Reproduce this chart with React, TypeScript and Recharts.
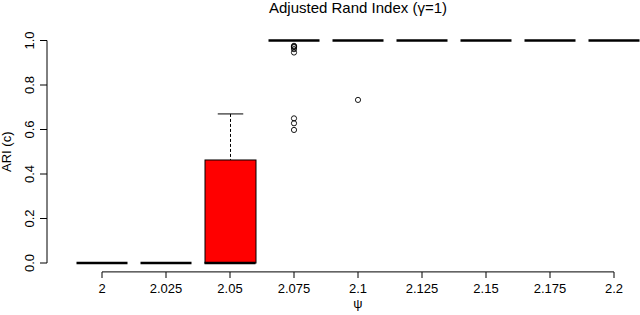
import React from 'react'
import { ComposedChart, Bar, Scatter, XAxis, YAxis, ReferenceLine } from 'recharts'

// box statistics per psi value (R boxplot style)
const psiLabels = ['2', '2.025', '2.05', '2.075', '2.1', '2.125', '2.15', '2.175', '2.2']
const whiskerLow = [0, 0, 0, 1, 1, 1, 1, 1, 1]
const lowerQuartile = [0, 0, 0, 1, 1, 1, 1, 1, 1]
const medians = [0, 0, 0, 1, 1, 1, 1, 1, 1]
const upperQuartile = [0, 0, 0.463, 1, 1, 1, 1, 1, 1]
const whiskerHigh = [0, 0, 0.67, 1, 1, 1, 1, 1, 1]
const boxFills = ['#ff0000', '#ff0000', '#ff0000', '#ff0000', '#ff0000', '#ff0000', '#ff0000', '#ff0000', '#ff0000']

const outlierPsi = ['2.075', '2.075', '2.075', '2.075', '2.075', '2.075', '2.075', '2.075', '2.1']
const outlierAri = [0.976, 0.973, 0.97, 0.961, 0.946, 0.65, 0.628, 0.598, 0.733]

const yTicks = [0, 0.2, 0.4, 0.6, 0.8, 1]

const FONT = '"Liberation Sans", Arial, Helvetica, sans-serif'
const BOX_W = 51

const data = psiLabels.map((psi, i) => ({
    psi,
    base: whiskerLow[i],
    lowWhisker: lowerQuartile[i] - whiskerLow[i],
    box: upperQuartile[i] - lowerQuartile[i],
    highWhisker: whiskerHigh[i] - upperQuartile[i],
    median: medians[i],
    boxColor: boxFills[i],
}))

const outliers = outlierPsi.map((psi, i) => ({ psi, ari: outlierAri[i] }))

const Empty = () => null

const BoxShape = (props: any) => {
    const { x, y, width, height, payload } = props
    if (!height || height < 0.5) return null
    return <rect x={x} y={y} width={width} height={height} fill={payload.boxColor} stroke="#000" strokeWidth={1} />
}

const HighWhisker = (props: any) => {
    const { x, y, width, height } = props
    if (!height || height < 0.5) return null
    const cx = x + width / 2
    return (
        <g>
            <line x1={cx} x2={cx} y1={y} y2={y + height} stroke="#000" strokeWidth={1} strokeDasharray="3 2" />
            <line x1={cx - width / 4} x2={cx + width / 4} y1={y} y2={y} stroke="#000" strokeWidth={1} />
        </g>
    )
}

const LowWhisker = (props: any) => {
    const { x, y, width, height } = props
    if (!height || height < 0.5) return null
    const cx = x + width / 2
    return (
        <g>
            <line x1={cx} x2={cx} y1={y} y2={y + height} stroke="#000" strokeWidth={1} strokeDasharray="3 2" />
            <line x1={cx - width / 4} x2={cx + width / 4} y1={y + height} y2={y + height} stroke="#000" strokeWidth={1} />
        </g>
    )
}

const MedianLine = (props: any) => {
    const { cx, cy } = props
    return <line x1={cx - BOX_W / 2} x2={cx + BOX_W / 2} y1={cy} y2={cy} stroke="#000" strokeWidth={2.4} />
}

const OutlierDot = (props: any) => {
    const { cx, cy } = props
    return <circle cx={cx} cy={cy} r={2.6} fill="none" stroke="#000" strokeWidth={0.9} />
}

const XTick = (props: any) => {
    const { x, y, payload } = props
    return (
        <g>
            <line x1={x} x2={x} y1={y + 9} y2={y + 15} stroke="#000" strokeWidth={1} />
            <text x={x} y={y + 29.5} textAnchor="middle" fontSize={13} fontFamily={FONT} fill="#000">
                {payload.value}
            </text>
        </g>
    )
}

const YTick = (props: any) => {
    const { x, y, payload } = props
    const tx = x - 6.5
    return (
        <text x={tx} y={y} transform={`rotate(-90, ${tx}, ${y})`} textAnchor="middle" fontSize={13} fontFamily={FONT} fill="#000">
            {Number(payload.value).toFixed(1)}
        </text>
    )
}

export default function App() {
    return (
        <div style={{ position: 'absolute', left: 0, top: 0, width: 640, height: 315, overflow: 'hidden', background: '#fff' }}>
            <svg width={640} height={315} style={{ position: 'absolute', left: 0, top: 0, pointerEvents: 'none', zIndex: 1 }}>
                <text x={358} y={12.5} textAnchor="middle" fontSize={15} fontFamily={FONT} fill="#000">
                    Adjusted Rand Index (γ=1)
                </text>
            </svg>
            <ComposedChart
                width={700}
                height={315}
                data={data}
                margin={{ top: 40.5, right: 31, bottom: 0, left: 0 }}
            >
                <XAxis
                    dataKey="psi"
                    type="category"
                    allowDuplicatedCategory={false}
                    padding={{ left: 23, right: 23 }}
                    height={52}
                    interval={0}
                    axisLine={false}
                    tickLine={false}
                    tickSize={0}
                    tickMargin={0}
                    tick={<XTick />}
                    label={{
                        content: (p: any) => {
                            const vb = p.viewBox
                            return (
                                <text x={vb.x + vb.width / 2} y={vb.y + 45} textAnchor="middle" fontSize={13} fontFamily={FONT} fill="#000">
                                    ψ
                                </text>
                            )
                        },
                    }}
                />
                <YAxis
                    type="number"
                    domain={[0, 1]}
                    ticks={yTicks}
                    width={47}
                    tickSize={7}
                    tickMargin={0}
                    axisLine={{ stroke: '#000', strokeWidth: 1 }}
                    tickLine={{ stroke: '#000', strokeWidth: 1 }}
                    tick={<YTick />}
                    label={{
                        content: (p: any) => {
                            const vb = p.viewBox
                            const lx = 10.5
                            const ly = vb.y + vb.height / 2
                            return (
                                <text x={lx} y={ly} transform={`rotate(-90, ${lx}, ${ly})`} textAnchor="middle" fontSize={13} fontFamily={FONT} fill="#000">
                                    ARI (c)
                                </text>
                            )
                        },
                    }}
                />
                <ReferenceLine
                    segment={[{ x: '2', y: -0.04 }, { x: '2.2', y: -0.04 }]}
                    ifOverflow="visible"
                    stroke="#000"
                    strokeWidth={1}
                />
                <Bar dataKey="base" stackId="bp" barSize={BOX_W} shape={<Empty />} isAnimationActive={false} />
                <Bar dataKey="lowWhisker" stackId="bp" barSize={BOX_W} shape={<LowWhisker />} isAnimationActive={false} />
                <Bar dataKey="box" stackId="bp" barSize={BOX_W} shape={<BoxShape />} isAnimationActive={false} />
                <Bar dataKey="highWhisker" stackId="bp" barSize={BOX_W} shape={<HighWhisker />} isAnimationActive={false} />
                <Scatter dataKey="median" shape={<MedianLine />} isAnimationActive={false} />
                <Scatter data={outliers} dataKey="ari" shape={<OutlierDot />} isAnimationActive={false} />
            </ComposedChart>
        </div>
    )
}
